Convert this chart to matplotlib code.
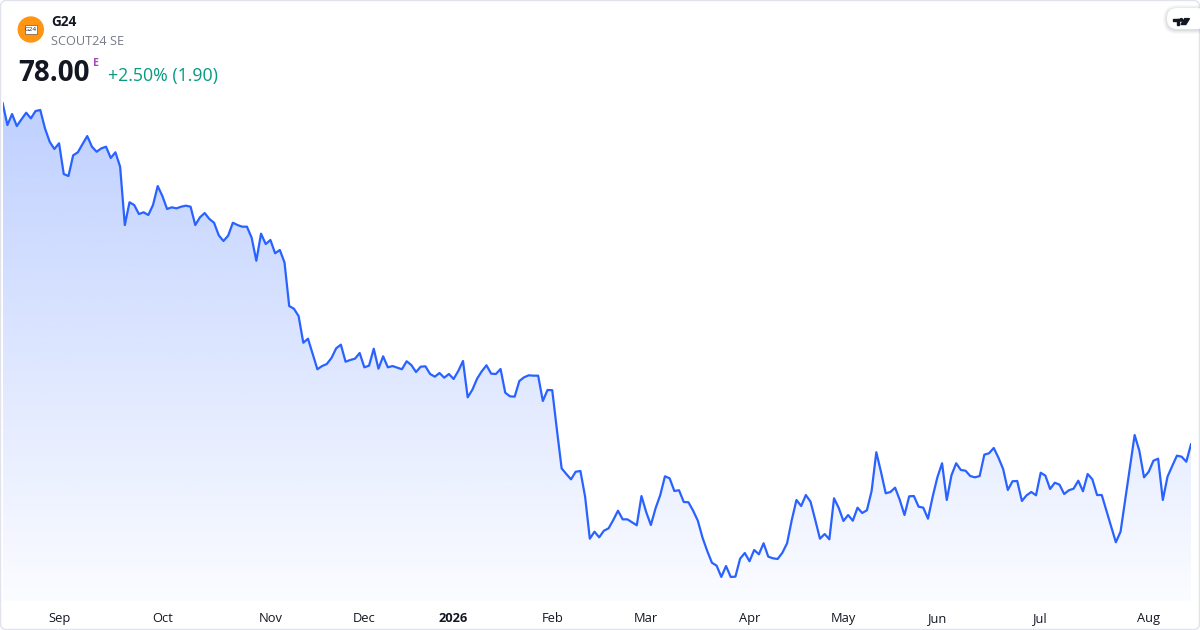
import numpy as np
import matplotlib
matplotlib.use("Agg")
from matplotlib import pyplot as plt
from matplotlib.patches import Circle, FancyBboxPatch, Polygon, Rectangle
from matplotlib.colors import to_rgb
from matplotlib.transforms import blended_transform_factory

plt.rcParams['font.family'] = ['Open Sans', 'DejaVu Sans']

# daily closes, indexed by trading session (a few flat stretches were not read)
sessions = list(range(0, 235)) + [237, 238] + list(range(241, 254))
close = [
    115.17, 112.80, 114.00, 112.69, 113.43, 114.14, 113.53, 114.33, 114.44, 112.44,
    110.98, 110.19, 110.81, 107.46, 107.24, 109.50, 109.83, 110.73, 111.60, 110.44,
    109.89, 110.26, 110.44, 109.21, 109.83, 108.26, 101.90, 104.38, 104.08, 103.10,
    103.29, 102.99, 104.08, 106.15, 105.06, 103.65, 103.83, 103.72, 103.90, 104.01,
    103.90, 101.90, 102.74, 103.21, 102.56, 102.15, 100.78, 100.16, 100.74, 102.15,
    101.90, 101.72, 101.72, 100.52, 98.01, 100.96, 99.83, 100.27, 98.82, 99.18,
    97.82, 93.07, 92.78, 91.98, 89.07, 89.51, 87.84, 86.18, 86.53, 86.75,
    87.41, 88.46, 88.86, 87.00, 87.19, 87.33, 87.95, 86.39, 86.57, 88.42,
    86.24, 87.59, 86.39, 86.53, 86.35, 86.18, 87.05, 86.64, 85.88, 86.46,
    86.50, 85.66, 85.37, 85.77, 85.26, 85.66, 85.12, 85.99, 87.08, 83.12,
    83.95, 85.15, 85.96, 86.61, 85.70, 85.66, 86.21, 83.62, 83.23, 83.19,
    84.90, 85.30, 85.52, 85.48, 85.48, 82.72, 83.92, 83.90, 79.56, 75.38,
    74.76, 74.18, 75.01, 75.09, 72.29, 67.71, 68.47, 67.86, 68.58, 68.84,
    69.75, 70.76, 69.82, 69.82, 69.50, 69.17, 72.36, 70.62, 69.20, 71.02,
    72.47, 74.51, 74.29, 72.91, 72.99, 71.71, 71.68, 70.76, 69.67, 67.82,
    66.37, 65.09, 64.77, 63.54, 64.73, 63.54, 63.57, 65.53, 66.15, 65.25,
    66.48, 66.01, 67.21, 65.75, 65.57, 65.50, 66.18, 67.21, 69.75, 71.93,
    71.27, 72.47, 71.74, 69.75, 67.71, 68.22, 67.64, 72.11, 71.06, 69.64,
    70.29, 69.67, 71.09, 70.51, 70.81, 72.91, 77.13, 74.98, 72.66, 72.80,
    73.27, 71.93, 70.29, 72.33, 72.36, 71.20, 71.09, 69.89, 72.29, 74.40,
    75.93, 71.93, 74.62, 75.93, 75.20, 75.12, 74.54, 74.40, 74.54, 76.87,
    77.02, 77.60, 76.54, 75.31, 73.02, 73.97, 74.00, 71.82, 72.44, 72.80,
    72.44, 74.90, 74.58, 73.13, 73.81, 73.60, 72.58, 72.99, 73.16, 74.03,
    72.88, 74.76, 74.18, 72.47, 72.47, 67.32, 68.47, 79.01, 77.30, 74.40,
    75.01, 76.21, 76.43, 71.93, 74.47, 75.63, 76.76, 76.65, 76.10, 78.00,
]

month_labels = ['Sep', 'Oct', 'Nov', 'Dec', '2026', 'Feb', 'Mar', 'Apr', 'May', 'Jun', 'Jul', 'Aug']
month_sessions = [12, 34, 57, 77, 96, 117, 137, 159, 179, 199, 221, 244]

ticker = 'G24'
company = 'SCOUT24 SE'
last_price = '78.00'
change_text = '+2.50% (1.90)'

LINE = '#2962FF'
TEXT = '#131722'
W, H = 1200, 630

fig = plt.figure(figsize=(12, 6.3), dpi=100)
fig.patch.set_facecolor('white')

# price pane
ax = fig.add_axes([2.7 / W, (H - 600.7) / H, (1191 - 2.7) / W, (600.7 - 90) / H])
y_lo, y_hi = 60.95, 116.62
ax.axis('off')

# gradient area under the line
alpha = np.linspace(0.02, 0.30, 256)
rgba = np.zeros((256, 1, 4))
rgba[..., :3] = to_rgb(LINE)
rgba[..., 3] = alpha[:, None]
im = ax.imshow(rgba, extent=[0, 253, y_lo, max(close)], origin='lower',
               aspect='auto', zorder=1, interpolation='bilinear')
area = ax.fill_between(sessions, close, y_lo, facecolor='none', edgecolor='none')
im.set_clip_path(area.get_paths()[0], transform=ax.transData)

ax.plot(sessions, close, color=LINE, lw=1.6, solid_joinstyle='round', zorder=3)
ax.set_xlim(0, 253)
ax.set_ylim(y_lo, y_hi)

# overlay in pixel units for header / frame
ov = fig.add_axes([0, 0, 1, 1], facecolor='none')
ov.set_xlim(0, W)
ov.set_ylim(H, 0)
ov.axis('off')

# month axis labels
tr = blended_transform_factory(ax.transData, ov.transData)
for lab, s in zip(month_labels, month_sessions):
    ax.text(s, 622, lab, transform=tr, ha='center', va='baseline', fontsize=9.3,
            color=TEXT, fontweight='bold' if lab == '2026' else 'normal', clip_on=False)

# frame
ov.add_patch(FancyBboxPatch((0.5, 0.5), W - 1, H - 1, boxstyle='round,pad=0,rounding_size=6',
                            fc='none', ec='#e0e3eb', lw=1))

# logo
ov.add_patch(Circle((30.8, 29.5), 12.5, color='#FF9512'))
ov.add_patch(Rectangle((25.0, 25.2), 11.8, 8.6, fc='white', ec='#6b5a45', lw=0.5))
ov.text(30.9, 29.6, 'G24', ha='center', va='center', fontsize=4.6, color='#222222')

ov.text(51, 26, ticker, ha='left', va='baseline', fontsize=9.8, fontweight='bold', color=TEXT)
ov.text(51, 45, company, ha='left', va='baseline', fontsize=9.2, color='#787b86')
ov.text(18.5, 80.7, last_price, ha='left', va='baseline', fontsize=20, fontweight='bold', color=TEXT)
ov.text(93.5, 65.5, 'E', ha='left', va='baseline', fontsize=7.6, fontweight='bold', color='#ab47bc')
ov.text(108.5, 81, change_text, ha='left', va='baseline', fontsize=12.8, color='#089981')

# TradingView badge with soft shadow
for grow, a in [(4, 0.05), (3, 0.07), (2, 0.09), (1, 0.12)]:
    ov.add_patch(FancyBboxPatch((1167 - grow, 9 - grow), 40 + 2 * grow, 21 + 2 * grow,
                                boxstyle='round,pad=0,rounding_size=%g' % (10 + grow),
                                fc='#9598a1', ec='none', alpha=a))
ov.add_patch(FancyBboxPatch((1167, 8), 40, 21, boxstyle='round,pad=0,rounding_size=10',
                            fc='white', ec='none'))
ov.add_patch(Rectangle((1172.7, 18.6), 6.6, 2.6, color=TEXT))
ov.add_patch(Rectangle((1176.7, 18.6), 2.7, 5.9, color=TEXT))
ov.add_patch(Circle((1181.3, 19.9), 1.3, color=TEXT))
ov.add_patch(Polygon([(1181.0, 24.5), (1184.7, 18.6), (1189.5, 18.6), (1185.8, 24.5)], color=TEXT))

fig.savefig('out.png', dpi=100, facecolor='white')
